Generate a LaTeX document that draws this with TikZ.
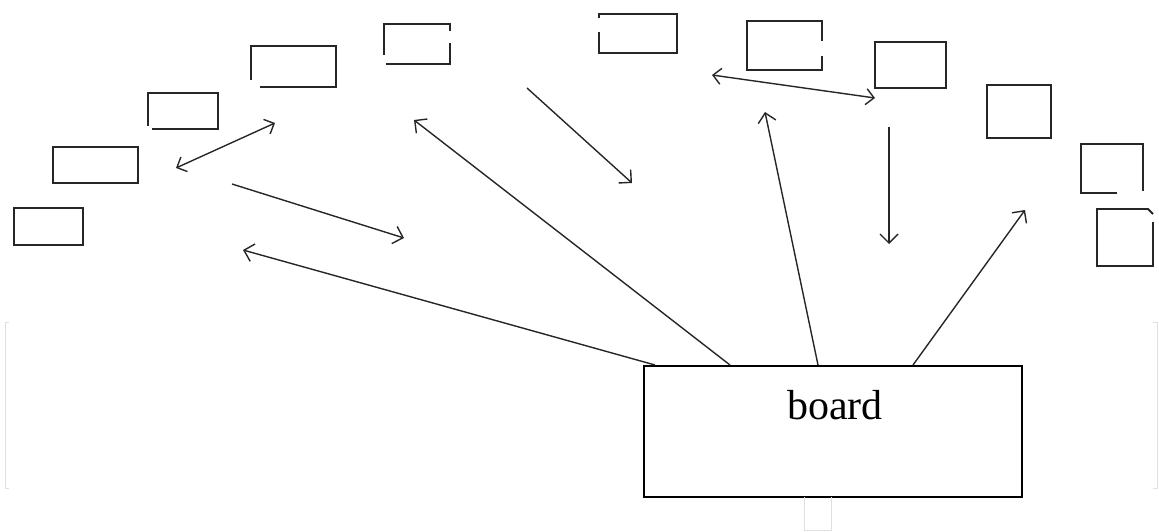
\documentclass[tikz,border=0pt]{standalone}
\usepackage{fontspec}
\setmainfont{Liberation Serif}
\usepackage{tikz}
\usetikzlibrary{calc}
\usetikzlibrary{arrows.meta}

\tikzset{
  pc/.style={line width=1.9pt, black!85},
  fleche/.style={line width=1.4pt, black!85, -{Straight Barb[length=9pt,width=18pt,line width=1.4pt]}},
  doublefleche/.style={line width=1.4pt, black!85, {Straight Barb[length=8pt,width=16pt,line width=1.4pt]}-{Straight Barb[length=8pt,width=16pt,line width=1.4pt]}},
  trace/.style={line width=1pt, black!12}
}

\begin{document}
\begin{tikzpicture}[x=1pt,y=-1pt]
                \useasboundingbox (0,0) rectangle (1159,532);

                % postes
                \draw[pc] (14,208) rectangle (83,245);
                \draw[pc] (53,147) rectangle (138,183);
                \draw[pc] (152,129) -- (218,129) -- (218,93) -- (148,93) -- (148,126);
                \draw[pc] (251,80) -- (251,46) -- (336,46) -- (336,87) -- (260,87);
                \draw[pc] (386,64) -- (450,64) -- (450,43);
                \draw[pc] (450,31) -- (450,24) -- (384,24) -- (384,55);
                \draw[pc] (599,32) -- (599,53) -- (677,53) -- (677,14) -- (599,14) -- (599,18);
                \draw[pc] (822,56) -- (822,70) -- (747,70) -- (747,21) -- (822,21) -- (822,41);
                \draw[pc] (875,42) rectangle (946,88);
                \draw[pc] (987,85) rectangle (1051,138);
                \draw[pc] (1117,193) -- (1081,193) -- (1081,144) -- (1143,144) -- (1143,191);
                \draw[pc] (1153,222) -- (1153,266) -- (1097,266) -- (1097,209) -- (1148,209) -- (1153,214);

                % tableau
                \node[draw, line width=1.8pt, minimum width=378pt, minimum height=131pt, anchor=north west, inner sep=0pt] (board) at (643,365) {};
                \node[anchor=base, font=\fontsize{42}{50}\selectfont] (boardlabel) at (835,419) {board};

                % extrémités libres
                \coordinate (p1) at (176,168);
                \coordinate (p2) at (275,123);
                \coordinate (p3) at (232,184);
                \coordinate (p4) at (404,238);
                \coordinate (p5) at (243,250);
                \coordinate (p6) at (414,120);
                \coordinate (p7) at (527,88);
                \coordinate (p8) at (632,183);
                \coordinate (p9) at (712,75);
                \coordinate (p10) at (875,98);
                \coordinate (p11) at (765,112);
                \coordinate (p12) at (889,127);
                \coordinate (p13) at (889,244);
                \coordinate (p14) at (1025,210);

                % départs du tableau
                \coordinate (b1) at ($(board.north west)+(12,0)$);
                \coordinate (b2) at ($(board.north west)+(87,0)$);
                \coordinate (b3) at ($(board.north west)+(175,0)$);
                \coordinate (b4) at ($(board.north west)+(270,0)$);

                % flèches
                \draw[doublefleche] (p1) -- (p2);
                \draw[fleche] (p3) -- (p4);
                \draw[fleche] (b1) -- (p5);
                \draw[fleche] (b2) -- (p6);
                \draw[fleche] (p7) -- (p8);
                \draw[doublefleche] (p9) -- (p10);
                \draw[fleche] (b3) -- (p11);
                \draw[fleche] (p12) -- (p13);
                \draw[fleche] (b4) -- (p14);

                % traces pâles
                \draw[trace] (9,322) -- (5,322) -- (5,488) -- (9,488);
                \draw[trace] (1153,322) -- (1157,322) -- (1157,488) -- (1153,488);
                \draw[trace] (804,497) -- (804,530) -- (831,530) -- (831,497);
            \end{tikzpicture}
\end{document}
